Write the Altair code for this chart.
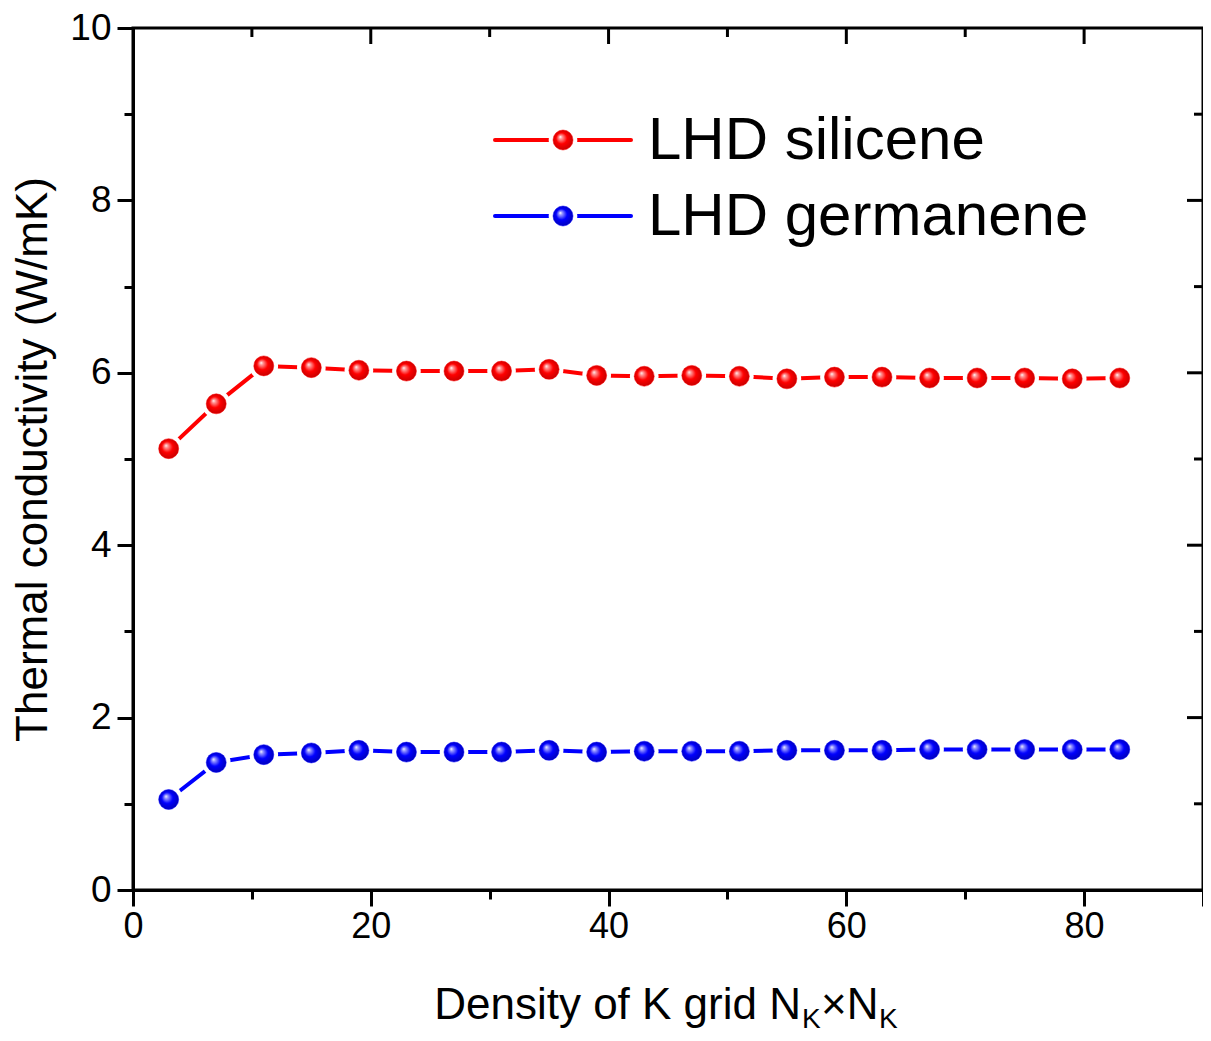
import altair as alt
import pandas as pd

# ---------------- data ----------------
k_grid = [3, 7, 11, 15, 19, 23, 27, 31, 35, 39, 43, 47, 51, 55, 59, 63, 67, 71, 75, 79, 83]
silicene = [5.12, 5.64, 6.08, 6.06, 6.03, 6.02, 6.02, 6.02, 6.04, 5.97, 5.96,
            5.97, 5.96, 5.93, 5.95, 5.95, 5.94, 5.94, 5.94, 5.93, 5.94]
germanene = [1.05, 1.48, 1.57, 1.59, 1.62, 1.60, 1.60, 1.60, 1.62, 1.60, 1.61,
             1.61, 1.61, 1.62, 1.62, 1.62, 1.63, 1.63, 1.63, 1.63, 1.63]
series_names = ["LHD silicene", "LHD germanene"]
x_ticks = [0, 10, 20, 30, 40, 50, 60, 70, 80, 90]
y_ticks = [0, 1, 2, 3, 4, 5, 6, 7, 8, 9, 10]

W, H = 1070, 862
FONT = "Liberation Sans"

df_si = pd.DataFrame({"k": k_grid, "v": silicene})
df_ge = pd.DataFrame({"k": k_grid, "v": germanene})

xscale = alt.Scale(domain=[0, 90], nice=False, zero=False)
yscale = alt.Scale(domain=[0, 10], nice=False, zero=False)

xaxis = alt.Axis(
    values=x_ticks, format="d",
    labelExpr="(datum.value % 20 === 0 && datum.value < 90) ? datum.label : ''",
    tickSize={"condition": {"test": "datum.value % 20 === 0 || datum.value === 90", "value": 16}, "value": 9},
    tickWidth=3, tickColor="black", domainWidth=3, domainColor="black",
    labelFont=FONT, labelFontSize=36, labelColor="black", labelPadding=3,
    grid=False, title=None, labelFlush=False, labelOverlap=False,
)
yaxis = alt.Axis(
    values=y_ticks, format="d",
    labelExpr="(datum.value % 2 === 0) ? datum.label : ''",
    tickSize={"condition": {"test": "datum.value % 2 === 0", "value": 16}, "value": 9},
    tickWidth=3, tickColor="black", domainWidth=3, domainColor="black",
    labelFont=FONT, labelFontSize=37, labelColor="black", labelPadding=6,
    grid=False, title="Thermal conductivity (W/mK)", titleFont=FONT,
    titleFontSize=44, titleFontWeight="normal", titleColor="black",
    titlePadding=14, labelFlush=False, labelOverlap=False,
)


def sphere(mid, dark, light):
    return {
        "gradient": "radial",
        "x1": 0.36, "y1": 0.34, "r1": 0.0,
        "x2": 0.5, "y2": 0.5, "r2": 0.55,
        "stops": [
            {"offset": 0.0, "color": "#ffffff"},
            {"offset": 0.15, "color": light},
            {"offset": 0.5, "color": mid},
            {"offset": 1.0, "color": dark},
        ],
    }


red_fill = sphere("#ff0000", "#c00000", "#ff9a9a")
blue_fill = sphere("#0000ff", "#0000b0", "#9a9aff")

DOT = 400
HALO = 820


def series_layers(df, color, fill, axis_x, axis_y):
    base = alt.Chart(df)
    enc_x = alt.X("k:Q", scale=xscale, axis=axis_x)
    enc_y = alt.Y("v:Q", scale=yscale, axis=axis_y)
    line = base.mark_line(color=color, strokeWidth=4).encode(x=enc_x, y=enc_y)
    halo = base.mark_circle(color="white", opacity=1, size=HALO).encode(
        x=alt.X("k:Q", scale=xscale), y=alt.Y("v:Q", scale=yscale))
    dots = base.mark_circle(fill=fill, opacity=1, size=DOT, stroke=color,
                            strokeWidth=0.5).encode(
        x=alt.X("k:Q", scale=xscale), y=alt.Y("v:Q", scale=yscale))
    return [line, halo, dots]


layers = []
layers += series_layers(df_si, "#ff0000", red_fill, xaxis, yaxis)
layers += series_layers(df_ge, "#0000ff", blue_fill, xaxis, yaxis)

# inward ticks on top and right frame
xt = pd.DataFrame({"t": x_ticks})
yt = pd.DataFrame({"t": y_ticks})
top_major = alt.Chart(xt).transform_filter("datum.t % 20 === 0 && datum.t > 0 && datum.t < 90").mark_rule(
    color="black", strokeWidth=3).encode(x=alt.X("t:Q", scale=xscale), y=alt.value(0), y2=alt.value(16))
top_minor = alt.Chart(xt).transform_filter("datum.t % 20 !== 0 && datum.t < 90").mark_rule(
    color="black", strokeWidth=3).encode(x=alt.X("t:Q", scale=xscale), y=alt.value(0), y2=alt.value(9))
right_major = alt.Chart(yt).transform_filter("datum.t % 2 === 0 && datum.t > 0 && datum.t < 10").mark_rule(
    color="black", strokeWidth=3).encode(y=alt.Y("t:Q", scale=yscale), x=alt.value(W - 16), x2=alt.value(W))
right_minor = alt.Chart(yt).transform_filter("datum.t % 2 !== 0").mark_rule(
    color="black", strokeWidth=3).encode(y=alt.Y("t:Q", scale=yscale), x=alt.value(W - 9), x2=alt.value(W))
layers += [top_major, top_minor, right_major, right_minor]


# legend
def legend_entry(name, color, fill, ypix):
    d = pd.DataFrame({"name": [name]})
    b = alt.Chart(d)
    ln = b.mark_rule(color=color, strokeWidth=4, strokeCap="round").encode(
        x=alt.value(362), x2=alt.value(498), y=alt.value(ypix))
    halo = b.mark_circle(color="white", opacity=1, size=HALO).encode(
        x=alt.value(430), y=alt.value(ypix))
    dot = b.mark_circle(fill=fill, opacity=1, size=DOT, stroke=color, strokeWidth=0.5).encode(
        x=alt.value(430), y=alt.value(ypix))
    txt = b.mark_text(align="left", baseline="middle", font=FONT, fontSize=60,
                      color="black").encode(x=alt.value(515), y=alt.value(ypix + 1), text="name:N")
    return [ln, halo, dot, txt]


layers += legend_entry(series_names[0], "#ff0000", red_fill, 112)
layers += legend_entry(series_names[1], "#0000ff", blue_fill, 188)

# x-axis title with subscripts
title_parts = pd.DataFrame({"main": ["Density of K grid N"], "sub": ["K"], "mid": ["\u00d7N"]})
tb = alt.Chart(title_parts)
t_main = tb.mark_text(align="right", baseline="alphabetic", font=FONT, fontSize=44, color="black").encode(
    x=alt.value(668), y=alt.value(991), text="main:N")
t_sub1 = tb.mark_text(align="left", baseline="alphabetic", font=FONT, fontSize=28, color="black").encode(
    x=alt.value(669), y=alt.value(1000), text="sub:N")
t_mid = tb.mark_text(align="left", baseline="alphabetic", font=FONT, fontSize=44, color="black").encode(
    x=alt.value(688), y=alt.value(991), text="mid:N")
t_sub2 = tb.mark_text(align="left", baseline="alphabetic", font=FONT, fontSize=28, color="black").encode(
    x=alt.value(746), y=alt.value(1000), text="sub:N")
layers += [t_main, t_sub1, t_mid, t_sub2]

chart = alt.layer(*layers).properties(
    width=W, height=H,
    autosize=alt.AutoSizeParams(type="none"),
    padding={"left": 125, "top": 20, "right": 0, "bottom": 143},
    background="white",
).configure_view(stroke="black", strokeWidth=3)

chart.save("out.html", embed_options={"renderer": "svg", "actions": False})
